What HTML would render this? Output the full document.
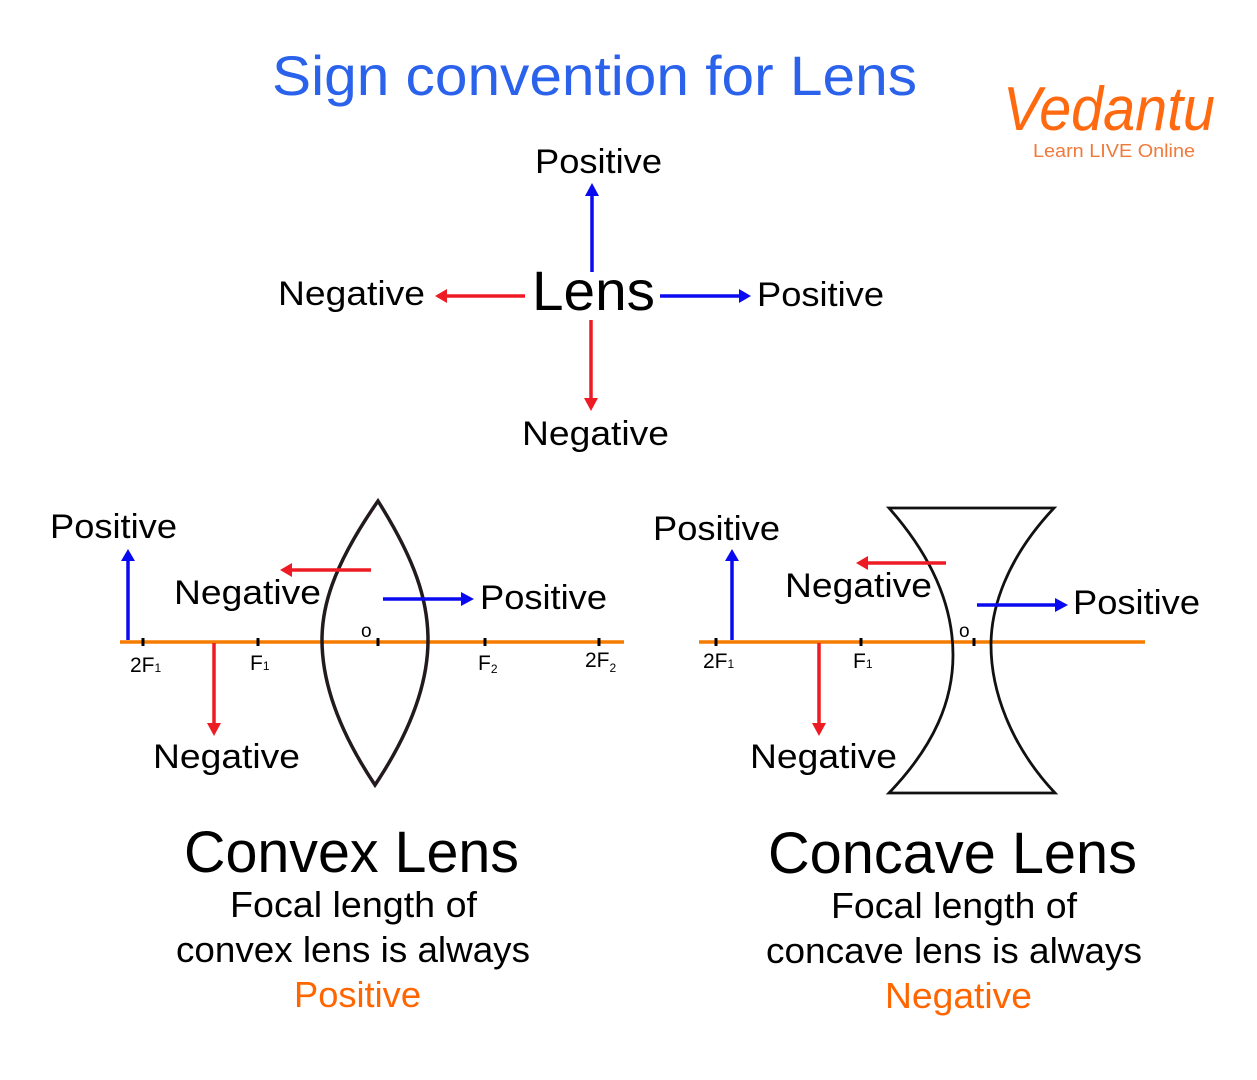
<!DOCTYPE html>
<html><head><meta charset="utf-8"><style>
html,body{margin:0;padding:0;background:#fff;}
svg{display:block;}
text{font-family:"Liberation Sans",sans-serif;}
</style></head><body>
<svg width="1257" height="1080" viewBox="0 0 1257 1080" xmlns="http://www.w3.org/2000/svg">
<rect width="1257" height="1080" fill="#fff"/>
<!-- title -->
<text x="272" y="95" font-size="56" fill="#2a62ec" textLength="645" lengthAdjust="spacingAndGlyphs">Sign convention for Lens</text>
<!-- logo -->
<text x="1003" y="130" font-size="62" fill="#ff6a10" font-style="italic" textLength="212" lengthAdjust="spacingAndGlyphs">Vedantu</text>
<text x="1033" y="157" font-size="18" fill="#f07a3a" textLength="162" lengthAdjust="spacingAndGlyphs">Learn LIVE Online</text>

<g stroke-width="3.5" fill="none">
<line x1="592" y1="272" x2="592" y2="195" stroke="#0a0af0"/>
<polygon points="585,196 599,196 592,183" fill="#0a0af0" stroke="none"/>
<line x1="525" y1="296" x2="446" y2="296" stroke="#ed1c24"/>
<polygon points="447,289 447,303 435,296" fill="#ed1c24" stroke="none"/>
<line x1="660" y1="296" x2="740" y2="296" stroke="#0a0af0"/>
<polygon points="739,289 739,303 751,296" fill="#0a0af0" stroke="none"/>
<line x1="591" y1="320" x2="591" y2="399" stroke="#ed1c24"/>
<polygon points="584,398 598,398 591,411" fill="#ed1c24" stroke="none"/>
</g>
<g font-size="34" fill="#000">
<text x="535" y="173" textLength="127" lengthAdjust="spacingAndGlyphs">Positive</text>
<text x="278" y="305" textLength="147" lengthAdjust="spacingAndGlyphs">Negative</text>
<text x="757" y="306" textLength="127" lengthAdjust="spacingAndGlyphs">Positive</text>
<text x="522" y="445" textLength="147" lengthAdjust="spacingAndGlyphs">Negative</text>
</g>
<text x="532" y="310" font-size="56" textLength="123" lengthAdjust="spacingAndGlyphs">Lens</text>

<!-- convex -->
<line x1="120" y1="642" x2="624" y2="642" stroke="#f57c00" stroke-width="3.5"/>
<g stroke="#000" stroke-width="3">
<line x1="143" y1="638" x2="143" y2="646"/><line x1="258" y1="638" x2="258" y2="646"/>
<line x1="378" y1="638" x2="378" y2="646"/><line x1="485" y1="638" x2="485" y2="646"/>
<line x1="599" y1="638" x2="599" y2="646"/>
</g>
<path d="M378,501 C330,570 322,610 322,640 C322,690 345,740 375,785 C405,740 428,690 428,640 C428,600 415,560 378,501 Z" fill="none" stroke="#231a1f" stroke-width="3.5"/>
<g font-size="21" fill="#000">
<text x="130" y="672">2F<tspan font-size="12">1</tspan></text>
<text x="250" y="670">F<tspan font-size="12">1</tspan></text>
<text x="478" y="670">F<tspan font-size="12" dy="3">2</tspan></text>
<text x="585" y="667">2F<tspan font-size="12" dy="5">2</tspan></text>
<text x="361" y="637" font-size="19">o</text>
</g>
<g stroke-width="3.5">
<line x1="128" y1="640" x2="128" y2="560" stroke="#0a0af0"/>
<polygon points="121,561 135,561 128,549" fill="#0a0af0"/>
<line x1="371" y1="570" x2="291" y2="570" stroke="#ed1c24"/>
<polygon points="292,563 292,577 280,570" fill="#ed1c24"/>
<line x1="383" y1="599" x2="462" y2="599" stroke="#0a0af0"/>
<polygon points="461,592 461,606 474,599" fill="#0a0af0"/>
<line x1="214" y1="643" x2="214" y2="724" stroke="#ed1c24"/>
<polygon points="207,723 221,723 214,736" fill="#ed1c24"/>
</g>
<g font-size="34" fill="#000">
<text x="50" y="538" textLength="127" lengthAdjust="spacingAndGlyphs">Positive</text>
<text x="174" y="604" textLength="147" lengthAdjust="spacingAndGlyphs">Negative</text>
<text x="480" y="609" textLength="127" lengthAdjust="spacingAndGlyphs">Positive</text>
<text x="153" y="768" textLength="147" lengthAdjust="spacingAndGlyphs">Negative</text>
</g>

<!-- concave -->
<line x1="699" y1="642" x2="1145" y2="642" stroke="#f57c00" stroke-width="3.5"/>
<g stroke="#000" stroke-width="3">
<line x1="716" y1="638" x2="716" y2="646"/><line x1="861" y1="638" x2="861" y2="646"/>
<line x1="974" y1="638" x2="974" y2="646"/>
</g>
<path d="M889,508 L1054,508 C1005,560 991,610 991,645 C991,690 1010,745 1055,793 L889,793 C935,745 953,700 953,655 C953,610 935,560 889,508 Z" fill="none" stroke="#111" stroke-width="2.8"/>
<g font-size="21" fill="#000">
<text x="703" y="668">2F<tspan font-size="12">1</tspan></text>
<text x="853" y="668">F<tspan font-size="12">1</tspan></text>
<text x="959" y="637" font-size="19">o</text>
</g>
<g stroke-width="3.5">
<line x1="732" y1="640" x2="732" y2="560" stroke="#0a0af0"/>
<polygon points="725,561 739,561 732,549" fill="#0a0af0"/>
<line x1="946" y1="563" x2="867" y2="563" stroke="#ed1c24"/>
<polygon points="868,556 868,570 856,563" fill="#ed1c24"/>
<line x1="977" y1="605" x2="1056" y2="605" stroke="#0a0af0"/>
<polygon points="1055,598 1055,612 1068,605" fill="#0a0af0"/>
<line x1="819" y1="643" x2="819" y2="724" stroke="#ed1c24"/>
<polygon points="812,723 826,723 819,736" fill="#ed1c24"/>
</g>
<g font-size="34" fill="#000">
<text x="653" y="540" textLength="127" lengthAdjust="spacingAndGlyphs">Positive</text>
<text x="785" y="597" textLength="147" lengthAdjust="spacingAndGlyphs">Negative</text>
<text x="1073" y="614" textLength="127" lengthAdjust="spacingAndGlyphs">Positive</text>
<text x="750" y="768" textLength="147" lengthAdjust="spacingAndGlyphs">Negative</text>
</g>

<!-- captions -->
<text x="184" y="872" font-size="58" textLength="335" lengthAdjust="spacingAndGlyphs">Convex Lens</text>
<text x="230" y="917" font-size="36" textLength="247" lengthAdjust="spacingAndGlyphs">Focal length of</text>
<text x="176" y="962" font-size="36" textLength="354" lengthAdjust="spacingAndGlyphs">convex lens is always</text>
<text x="294" y="1007" font-size="36" fill="#ff6600" textLength="127" lengthAdjust="spacingAndGlyphs">Positive</text>

<text x="768" y="873" font-size="58" textLength="369" lengthAdjust="spacingAndGlyphs">Concave Lens</text>
<text x="831" y="918" font-size="36" textLength="246" lengthAdjust="spacingAndGlyphs">Focal length of</text>
<text x="766" y="963" font-size="36" textLength="376" lengthAdjust="spacingAndGlyphs">concave lens is always</text>
<text x="885" y="1008" font-size="36" fill="#ff6600" textLength="147" lengthAdjust="spacingAndGlyphs">Negative</text>
</svg>
</body></html>
